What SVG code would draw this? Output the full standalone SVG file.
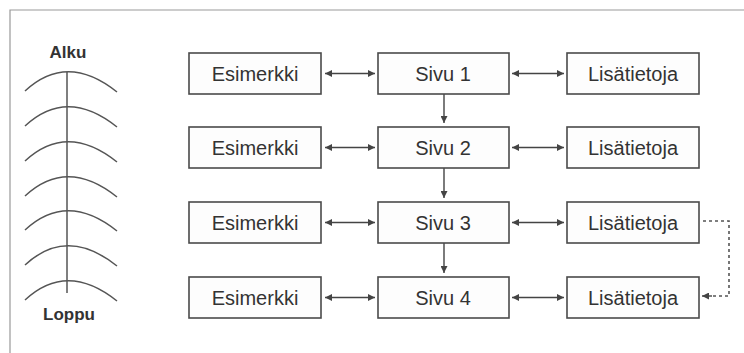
<svg xmlns="http://www.w3.org/2000/svg" width="744" height="353" viewBox="0 0 744 353">
<style>
.box{fill:#fdfdfd;stroke:#4a4a4a;stroke-width:1.6}
.t{font-family:"Liberation Sans",Arial,sans-serif;font-size:20px;fill:#333;text-anchor:middle}
.lbl{font-family:"Liberation Sans",Arial,sans-serif;font-size:17px;font-weight:bold;fill:#333;text-anchor:middle}
.c{stroke:#444;stroke-width:1.4;fill:none}
.d{stroke:#555;stroke-width:1.6;fill:none;stroke-dasharray:3 3}
.fb{stroke:#555;stroke-width:1.5;fill:none}
</style>
<defs>
<marker id="ah" viewBox="0 0 10 10" refX="10" refY="5" markerWidth="9" markerHeight="7" markerUnits="userSpaceOnUse" orient="auto-start-reverse">
<path d="M0,0 L10,5 L0,10 z" fill="#444"/>
</marker>
</defs>
<rect width="744" height="353" fill="#fff"/>
<g id="frame" stroke="#999" stroke-width="1.2" fill="none">
<path d="M10,353 L10,10 L744,10"/>
</g>
<g id="timeline">
<path class="fb" d="M67,72 L67,293"/>
<path class="fb" d="M25,91 Q67,52 117,92"/>
<path class="fb" d="M25,126 Q67,87 117,127"/>
<path class="fb" d="M25,161 Q67,122 117,162"/>
<path class="fb" d="M25,196 Q67,157 117,197"/>
<path class="fb" d="M25,230 Q67,191 117,231"/>
<path class="fb" d="M25,265 Q67,226 117,266"/>
<path class="fb" d="M25,300 Q67,261 117,301"/>
<text class="lbl" x="68" y="58">Alku</text>
<text class="lbl" x="69" y="320">Loppu</text>
</g>
<g id="connectors">
<path class="c" d="M325,73.5 L375,73.5" marker-start="url(#ah)" marker-end="url(#ah)"/>
<path class="c" d="M512,73.5 L564,73.5" marker-start="url(#ah)" marker-end="url(#ah)"/>
<path class="c" d="M325,147.5 L375,147.5" marker-start="url(#ah)" marker-end="url(#ah)"/>
<path class="c" d="M512,147.5 L564,147.5" marker-start="url(#ah)" marker-end="url(#ah)"/>
<path class="c" d="M325,222.5 L375,222.5" marker-start="url(#ah)" marker-end="url(#ah)"/>
<path class="c" d="M512,222.5 L564,222.5" marker-start="url(#ah)" marker-end="url(#ah)"/>
<path class="c" d="M325,297.5 L375,297.5" marker-start="url(#ah)" marker-end="url(#ah)"/>
<path class="c" d="M512,297.5 L564,297.5" marker-start="url(#ah)" marker-end="url(#ah)"/>
<path class="c" d="M444,94 L444,123" marker-end="url(#ah)"/>
<path class="c" d="M444,168 L444,198" marker-end="url(#ah)"/>
<path class="c" d="M444,243 L444,273" marker-end="url(#ah)"/>
<path class="d" d="M703,221 L729,221 L729,296 L712,296"/>
<path class="c" d="M712,296 L702,296" marker-end="url(#ah)"/>
</g>
<g id="esimerkki1"><rect class="box" x="189" y="53" width="132" height="41"/><text class="t" x="255" y="81">Esimerkki</text></g>
<g id="sivu1"><rect class="box" x="378" y="53" width="131" height="41"/><text class="t" x="443" y="81">Sivu 1</text></g>
<g id="lisa1"><rect class="box" x="567" y="53" width="132" height="41"/><text class="t" x="633" y="81">Lisätietoja</text></g>
<g id="esimerkki2"><rect class="box" x="189" y="127" width="132" height="41"/><text class="t" x="255" y="155">Esimerkki</text></g>
<g id="sivu2"><rect class="box" x="378" y="127" width="131" height="41"/><text class="t" x="443" y="155">Sivu 2</text></g>
<g id="lisa2"><rect class="box" x="567" y="127" width="132" height="41"/><text class="t" x="633" y="155">Lisätietoja</text></g>
<g id="esimerkki3"><rect class="box" x="189" y="202" width="132" height="41"/><text class="t" x="255" y="230">Esimerkki</text></g>
<g id="sivu3"><rect class="box" x="378" y="202" width="131" height="41"/><text class="t" x="443" y="230">Sivu 3</text></g>
<g id="lisa3"><rect class="box" x="567" y="202" width="132" height="41"/><text class="t" x="633" y="230">Lisätietoja</text></g>
<g id="esimerkki4"><rect class="box" x="189" y="277" width="132" height="41"/><text class="t" x="255" y="305">Esimerkki</text></g>
<g id="sivu4"><rect class="box" x="378" y="277" width="131" height="41"/><text class="t" x="443" y="305">Sivu 4</text></g>
<g id="lisa4"><rect class="box" x="567" y="277" width="132" height="41"/><text class="t" x="633" y="305">Lisätietoja</text></g>
</svg>
